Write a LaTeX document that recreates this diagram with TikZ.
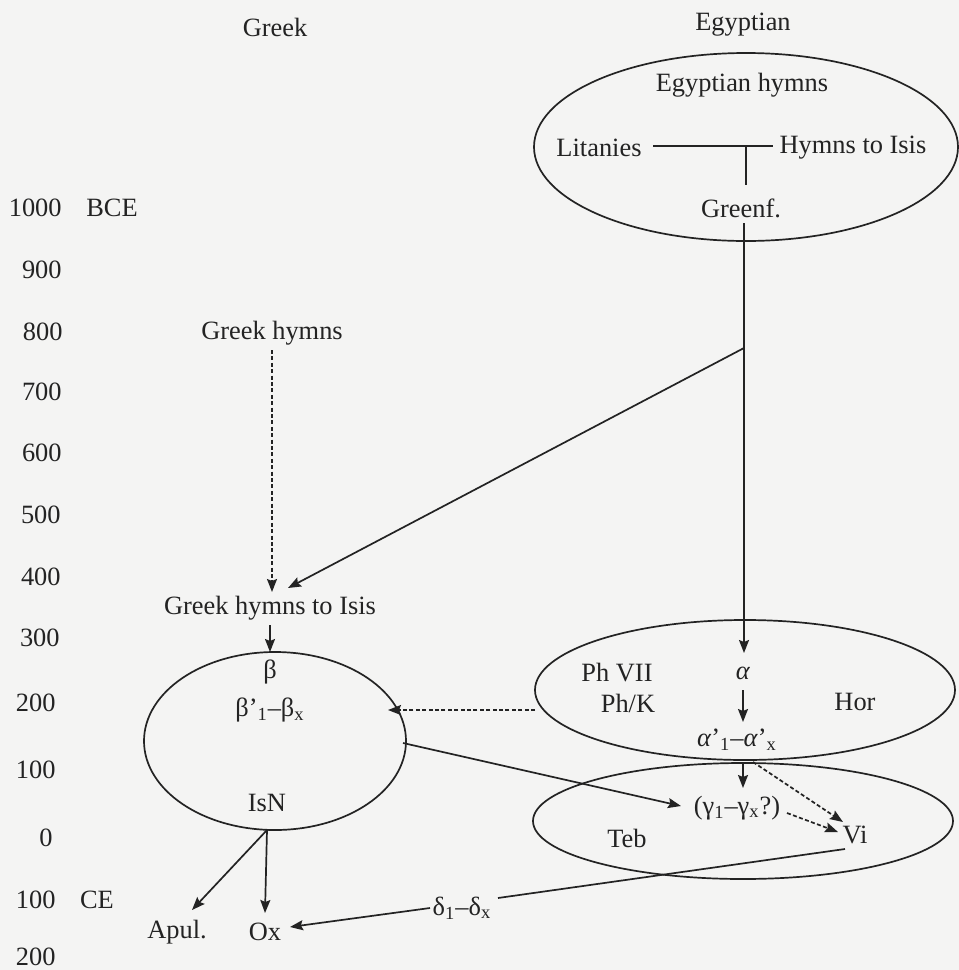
\documentclass[tikz,border=0pt]{standalone}
\usepackage{fontspec}
\setmainfont{Liberation Serif}
\usetikzlibrary{arrows.meta,shapes.geometric}
\definecolor{ink}{RGB}{35,35,35}
\definecolor{paper}{RGB}{244,244,243}
\begin{document}
\begin{tikzpicture}[x=0.5pt,y=-0.5pt,
  lab/.style={inner sep=0pt, font=\fontsize{13.2}{15}\selectfont, text=ink},
  yr/.style={lab, anchor=east},
  conn/.style={draw=ink, line width=0.85pt},
  arr/.style={conn, -{Stealth[length=6.5pt,width=5pt,inset=1pt]}},
  dsh/.style={dash pattern=on 2pt off 1.2pt},
  oval/.style={draw=ink, line width=0.85pt, ellipse, inner sep=0pt}]
\fill[paper] (0,0) rectangle (959,970);
\useasboundingbox (0,0) rectangle (959,970);

% column heads
\node[lab] (hgreek) at (275,27) {Greek};
\node[lab] (hegy) at (743,25) {Egyptian};

% time axis
\node[yr] (y1000) at (62,208) {1000};
\node[lab] (bce) at (112,208) {BCE};
\node[yr] (y900) at (62,270) {900};
\node[yr] (y800) at (63,332) {800};
\node[yr] (y700) at (62,392) {700};
\node[yr] (y600) at (62,453) {600};
\node[yr] (y500) at (61,515) {500};
\node[yr] (y400) at (61,577) {400};
\node[yr] (y300) at (60,638) {300};
\node[yr] (y200) at (56,703) {200};
\node[yr] (y100) at (56,770) {100};
\node[yr] (y0) at (53,838) {0};
\node[yr] (yc100) at (56,900) {100};
\node[lab] (ce) at (97,900) {CE};
\node[yr] (yc200) at (56,957) {200};

% ellipses
\node[oval, minimum width=212pt, minimum height=94pt] (egE) at (746,147) {};
\node[oval, minimum width=210pt, minimum height=70pt] (phE) at (745,690) {};
\node[oval, minimum width=210pt, minimum height=58pt] (tebE) at (743,821) {};
\node[oval, minimum width=131pt, minimum height=89pt] (betaE) at (275,741) {};

% Egyptian hymns
\node[lab] (egh) at (742,85) {Egyptian hymns};
\node[lab] (lit) at (599,148) {Litanies};
\node[lab] (hti) at (853,148) {Hymns to Isis};
\node[lab] (greenf) at (741,208) {Greenf.};
\coordinate (tL) at (653,146);
\coordinate (tR) at (773,146);
\coordinate (tM) at (746,146);
\coordinate (tB) at (746,185);
\draw[conn] (tL) -- (tR);
\draw[conn] (tM) -- (tB);

% main Egyptian line
\coordinate (gfB) at (744,223);
\coordinate (split) at (744,348);
\coordinate (alphaTip) at (744,653);
\draw[arr] (gfB) -- (alphaTip);

% Greek side
\node[lab] (gh) at (272,333) {Greek hymns};
\node[lab] (ghi) at (270,608) {Greek hymns to Isis};
\coordinate (ghB) at (272,350);
\coordinate (ghT) at (272,592);
\draw[arr, dsh] (ghB) -- (ghT);
\coordinate (diagTip) at (288,588);
\draw[arr] (split) -- (diagTip);
\coordinate (ghiB) at (270,625);
\coordinate (ghiT) at (270,652);
\draw[arr] (ghiB) -- (ghiT);

% beta ellipse contents
\node[lab] (beta) at (270,672) {β};
\node[lab] (betax) at (270,710) {β’\textsubscript{1}–β\textsubscript{x}};
\node[lab] (isn) at (267,803) {IsN};

% Ph ellipse contents
\node[lab] (phvii) at (617,673) {Ph VII};
\node[lab] (phk) at (628,703) {Ph/K};
\node[lab] (hor) at (855,702) {Hor};
\node[lab] (alpha) at (743,673) {\textit{α}};
\node[lab] (alphax) at (737,740) {\textit{α}’\textsubscript{1}–\textit{α}’\textsubscript{x}};
\coordinate (aB) at (743,690);
\coordinate (aT) at (743,722);
\draw[arr] (aB) -- (aT);

% dashed from Ph ellipse to beta ellipse
\coordinate (phL) at (535,710);
\coordinate (betaR) at (388,710);
\draw[arr, dsh] (phL) -- (betaR);

% Teb ellipse contents
\node[lab] (gamma) at (737,808) {(γ\textsubscript{1}–γ\textsubscript{x}?)};
\node[lab] (vi) at (855,835) {Vi};
\node[lab] (teb) at (627,838) {Teb};
\coordinate (axB) at (743,763);
\coordinate (gT) at (743,788);
\draw[arr] (axB) -- (gT);
\coordinate (axR) at (753,762);
\coordinate (viT1) at (843,822);
\draw[arr, dsh] (axR) -- (viT1);
\coordinate (gR) at (787,813);
\coordinate (viT2) at (838,832);
\draw[arr, dsh] (gR) -- (viT2);

% beta ellipse to gamma
\coordinate (betaR2) at (403,743);
\coordinate (gL) at (681,806);
\draw[arr] (betaR2) -- (gL);

% IsN to Apul., Ox
\node[lab] (apul) at (177,932) {Apul.};
\node[lab] (ox) at (265,932) {Ox};
\coordinate (isnB) at (267,830);
\coordinate (apT) at (192,910);
\coordinate (oxT) at (265,913);
\draw[arr] (isnB) -- (apT);
\draw[arr] (isnB) -- (oxT);

% delta
\node[lab] (delta) at (462,908) {δ\textsubscript{1}–δ\textsubscript{x}};
\coordinate (dL) at (430,908);
\coordinate (oxR) at (290,927);
\draw[arr] (dL) -- (oxR);
\coordinate (dR) at (498,898);
\coordinate (viB) at (845,849);
\draw[conn] (dR) -- (viB);
\end{tikzpicture}
\end{document}
